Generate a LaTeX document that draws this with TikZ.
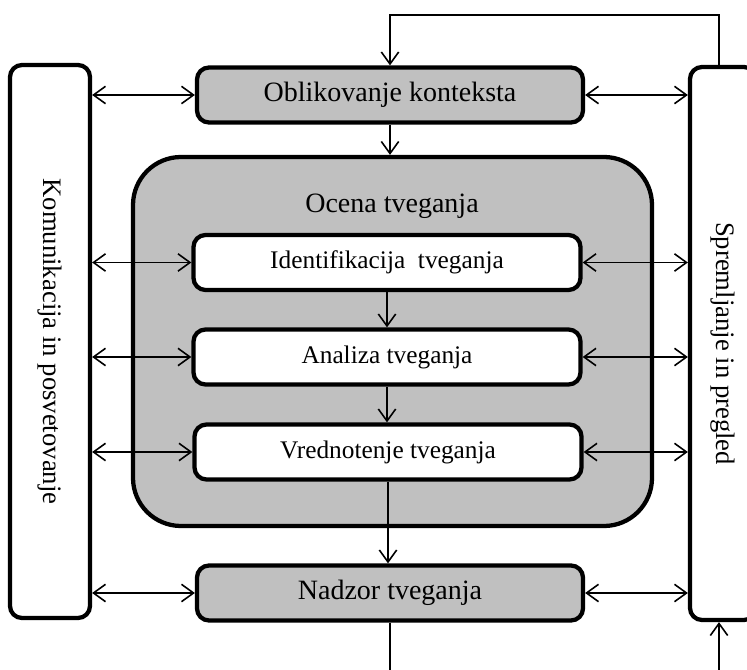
\documentclass[tikz,border=0pt]{standalone}
\usepackage{graphicx}
\usepackage{fontspec}
\setmainfont{Liberation Serif}
\usetikzlibrary{arrows.meta}
\definecolor{boxgray}{RGB}{192,192,192}
\tikzset{
  box/.style={draw, line width=3.2pt, rounded corners=9pt, inner sep=0pt, align=center},
  graybox/.style={box, fill=boxgray, minimum width=289.5pt, minimum height=41.25pt, font=\fontsize{21}{25}\selectfont},
  whitebox/.style={box, fill=white, minimum width=290.25pt, minimum height=41.25pt, font=\fontsize{19}{23}\selectfont},
  sidebox/.style={box, fill=white, minimum height=414.75pt, font=\fontsize{20}{24}\selectfont},
  flow/.style={line width=1.2pt, -{Straight Barb[length=9pt,width=13pt]}},
  twoway/.style={line width=1.2pt, {Straight Barb[length=9pt,width=13pt]}-{Straight Barb[length=9pt,width=13pt]}},
}
\begin{document}
\begin{tikzpicture}[x=0.75pt,y=0.75pt,yscale=-1,xscale=1]
    \useasboundingbox (0,0) rectangle (747,670);
    \clip (0,0) rectangle (747,670);
    % side boxes
    \node [sidebox, minimum width=60pt] (komun) at (50,341.5) {\rotatebox{-90}{Komunikacija in posvetovanje}};
    \node [sidebox, minimum width=49.5pt] (sprem) at (723,343.5) {\rotatebox{-90}{Spremljanje in pregled}};
    % main chain
    \node [graybox] (oblik) at (390,95) {Oblikovanje konteksta};
    \node [box, fill=boxgray, rounded corners=36pt, minimum width=389.25pt, minimum height=276.75pt] (ocena) at (392.5,341.5) {};
    \node [font=\fontsize{21}{25}\selectfont] (ocenatxt) at (392,206) {Ocena tveganja};
    \node [whitebox] (ident) at (387,262.5) {Identifikacija\ \ tveganja};
    \node [whitebox] (analiza) at (387,357) {Analiza tveganja};
    \node [whitebox] (vredn) at (388,452) {Vrednotenje tveganja};
    \node [graybox] (nadzor) at (390,593) {Nadzor tveganja};
    \coordinate (fbtop) at (719,15);
    \coordinate (fbbot) at (719,700);
    % flow
    \draw [flow] (oblik.south) -- (oblik.south |- ocena.north);
    \draw [flow] (ident.south) -- (ident.south |- analiza.north);
    \draw [flow] (analiza.south) -- (analiza.south |- vredn.north);
    \draw [flow] (vredn.south) -- (vredn.south |- nadzor.north);
    \draw [flow] (sprem.north -| fbtop) -- (fbtop) -| (oblik.north);
    \draw [flow] (nadzor.south) |- (fbbot) -- (sprem.south -| fbbot);
    % two-way links
    \foreach \b in {oblik,ident,analiza,vredn,nadzor}{
      \draw [twoway] (\b.west -| komun.east) -- (\b.west);
      \draw [twoway] (\b.east) -- (\b.east -| sprem.west);
    }
\end{tikzpicture}
\end{document}
